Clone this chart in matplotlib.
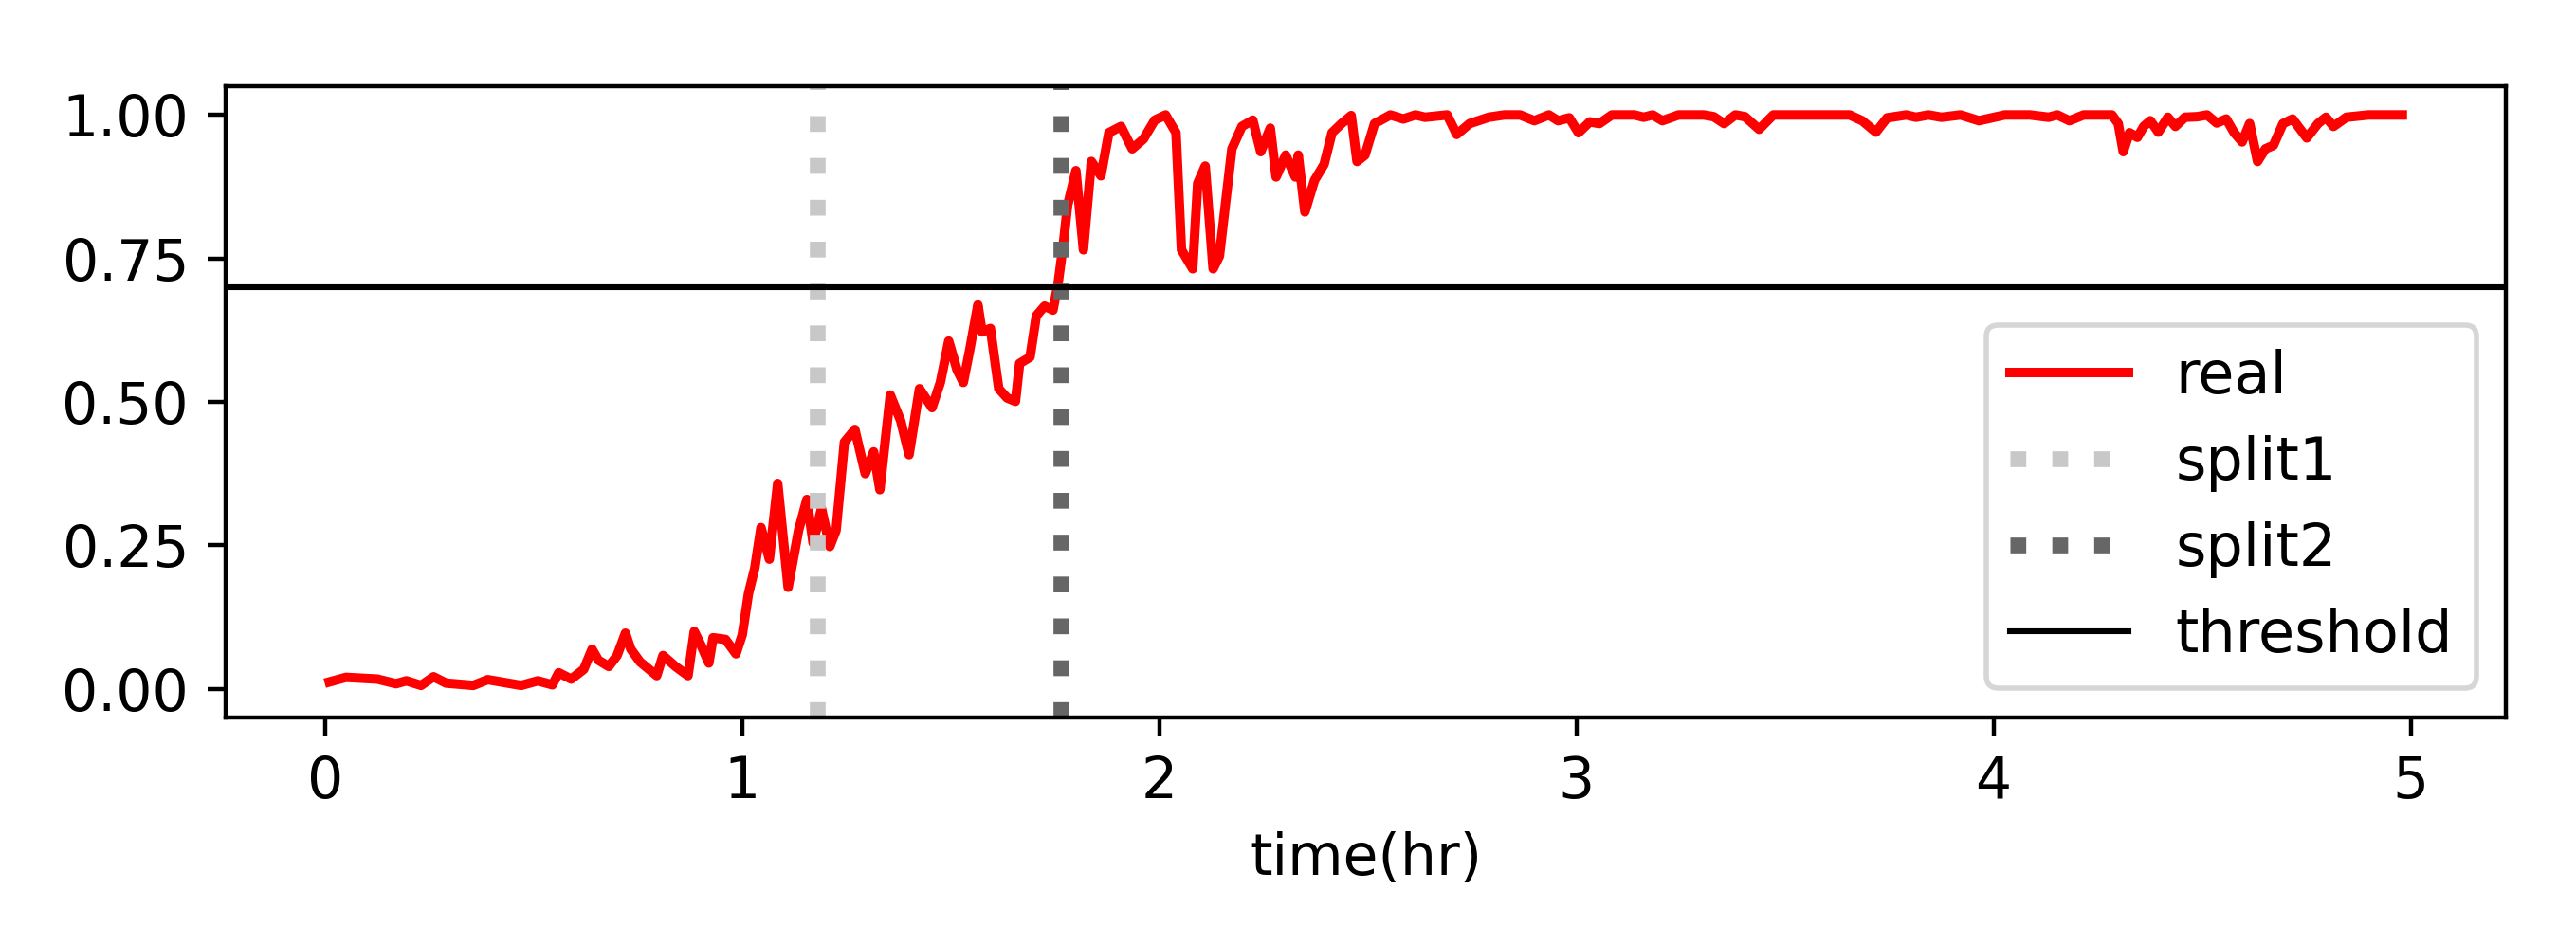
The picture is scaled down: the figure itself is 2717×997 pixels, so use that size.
import numpy as np
import matplotlib as mpl
mpl.use('Agg')
import matplotlib.pyplot as plt

# time (hr) and fraction
time_hr = [0.01, 0.05, 0.125, 0.17, 0.195, 0.23, 0.26, 0.29, 0.355, 0.39,
           0.43, 0.47, 0.51, 0.545, 0.56, 0.59, 0.62, 0.64, 0.655, 0.68,
           0.70, 0.72, 0.733, 0.755, 0.795, 0.81, 0.84, 0.87, 0.885, 0.90,
           0.92, 0.93, 0.96, 0.985, 1.0, 1.015, 1.03, 1.045, 1.065, 1.085,
           1.11, 1.135, 1.155, 1.17, 1.19, 1.21, 1.225, 1.245, 1.27, 1.295,
           1.315, 1.33, 1.355, 1.38, 1.40, 1.425, 1.455, 1.475, 1.495, 1.515,
           1.53, 1.545, 1.565, 1.575, 1.595, 1.615, 1.635, 1.655, 1.665, 1.69,
           1.705, 1.725, 1.745, 1.757, 1.77, 1.78, 1.80, 1.818, 1.837, 1.86,
           1.879, 1.908, 1.935, 1.962, 1.989, 2.015, 2.04, 2.053, 2.08, 2.092,
           2.11, 2.129, 2.144, 2.174, 2.198, 2.224, 2.243, 2.266, 2.28, 2.303,
           2.326, 2.333, 2.349, 2.372, 2.395, 2.414, 2.437, 2.46, 2.474, 2.493,
           2.516, 2.554, 2.585, 2.614, 2.637, 2.69, 2.713, 2.744, 2.79, 2.827,
           2.865, 2.899, 2.934, 2.956, 2.983, 3.005, 3.032, 3.055, 3.085, 3.139,
           3.161, 3.183, 3.206, 3.245, 3.305, 3.329, 3.354, 3.381, 3.404, 3.438,
           3.472, 3.541, 3.601, 3.655, 3.685, 3.718, 3.745, 3.791, 3.814, 3.844,
           3.875, 3.921, 3.965, 4.027, 4.087, 4.132, 4.153, 4.182, 4.216, 4.284,
           4.299, 4.311, 4.326, 4.345, 4.36, 4.376, 4.395, 4.418, 4.436, 4.459,
           4.489, 4.512, 4.535, 4.558, 4.577, 4.596, 4.614, 4.633, 4.652, 4.671,
           4.694, 4.717, 4.751, 4.778, 4.797, 4.815, 4.846, 4.899, 4.937, 4.98]
real = [0.012, 0.02, 0.017, 0.009, 0.014, 0.006, 0.021, 0.010, 0.006, 0.016,
        0.011, 0.006, 0.014, 0.007, 0.028, 0.017, 0.034, 0.069, 0.05, 0.039,
        0.058, 0.097, 0.069, 0.047, 0.023, 0.058, 0.039, 0.023, 0.10, 0.078,
        0.045, 0.089, 0.086, 0.061, 0.094, 0.166, 0.21, 0.281, 0.226, 0.358,
        0.177, 0.276, 0.33, 0.254, 0.314, 0.248, 0.276, 0.43, 0.452, 0.375,
        0.413, 0.347, 0.512, 0.467, 0.408, 0.523, 0.49, 0.534, 0.606, 0.556,
        0.534, 0.589, 0.669, 0.622, 0.628, 0.523, 0.507, 0.501, 0.567, 0.578,
        0.65, 0.667, 0.66, 0.705, 0.776, 0.842, 0.903, 0.765, 0.919, 0.894,
        0.969, 0.980, 0.941, 0.958, 0.991, 1.0, 0.969, 0.765, 0.732, 0.881,
        0.911, 0.732, 0.754, 0.941, 0.980, 0.991, 0.936, 0.977, 0.892, 0.930,
        0.892, 0.930, 0.831, 0.886, 0.914, 0.969, 0.985, 0.999, 0.919, 0.930,
        0.985, 1.0, 0.993, 1.0, 0.996, 1.0, 0.966, 0.985, 0.996, 1.0,
        1.0, 0.99, 1.0, 0.99, 0.995, 0.969, 0.988, 0.985, 1.0, 1.0,
        0.996, 1.0, 0.99, 1.0, 1.0, 0.997, 0.985, 1.0, 0.997, 0.975,
        1.0, 1.0, 1.0, 1.0, 0.99, 0.97, 0.995, 1.0, 0.996, 1.0,
        0.996, 1.0, 0.99, 1.0, 1.0, 0.996, 1.0, 0.99, 1.0, 1.0,
        0.985, 0.936, 0.969, 0.961, 0.98, 0.99, 0.97, 0.996, 0.98, 0.996,
        0.997, 1.0, 0.986, 0.993, 0.969, 0.953, 0.985, 0.919, 0.941, 0.947,
        0.985, 0.993, 0.96, 0.985, 0.996, 0.98, 0.996, 1.0, 1.0, 1.0]

split1 = 1.18
split2 = 1.765
threshold = 0.7

plt.rcParams['font.size'] = 10.8

fig = plt.figure(figsize=(2717 / 400, 997 / 400), dpi=400)
ax = fig.add_axes([0.0876, 0.2407, 0.9728 - 0.0876, 0.9087 - 0.2407])

ax.plot(time_hr, real, color='red', lw=1.8, label='real')
ax.axvline(split1, color='#c8c8c8', ls=':', lw=3, label='split1')
ax.axvline(split2, color='#666666', ls=':', lw=3, label='split2')
ax.axhline(threshold, color='black', lw=1.1, label='threshold')

ax.set_ylim(-0.05, 1.05)
ax.set_yticks([0, 0.25, 0.5, 0.75, 1.0])
ax.set_xlabel('time(hr)')
ax.legend(loc='lower right', fontsize=11.2)

fig.savefig('out.png', dpi=400)
